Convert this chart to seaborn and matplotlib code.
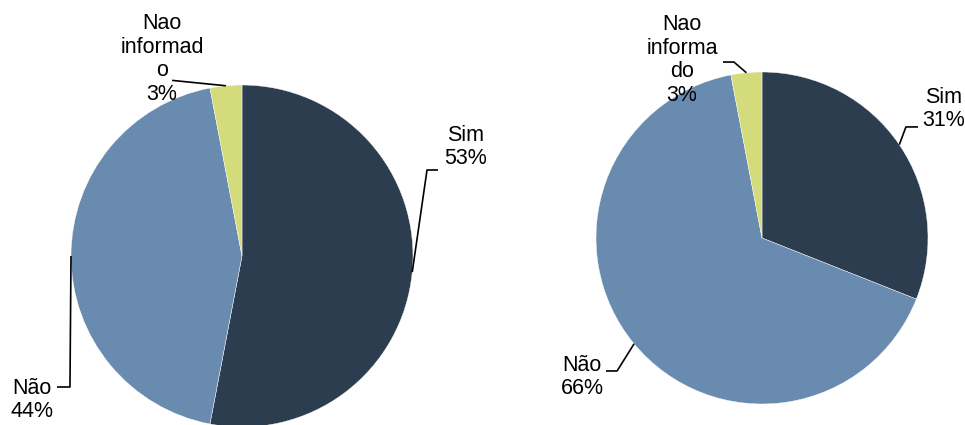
import matplotlib
matplotlib.use("Agg")
import numpy as np
import matplotlib.pyplot as plt
import seaborn as sns

# Survey answers, two groups
categories = ["Sim", "Não", "Nao informado"]
left_values = [53, 44, 3]
right_values = [31, 66, 3]
left_labels = ["Sim\n53%", "Não\n44%", "Nao\ninformad\no\n3%"]
right_labels = ["Sim\n31%", "Não\n66%", "Nao\ninforma\ndo\n3%"]

colors = ["#2D3D50", "#6A8BB0", "#D4DB7B"]

sns.set_theme(style="white")
plt.rcParams["font.family"] = ["Liberation Sans", "DejaVu Sans"]

W, H = 965, 425
fig = plt.figure(figsize=(W / 100, H / 100), dpi=100)
fig.patch.set_facecolor("white")


def make_axes(cx, cy, r):
    # cx, cy in pixels from the top-left corner, r in pixels
    ax = fig.add_axes([(cx - r) / W, (H - cy - r) / H, 2 * r / W, 2 * r / H])
    ax.set_xlim(-1, 1)
    ax.set_ylim(-1, 1)
    ax.set_aspect("equal")
    ax.axis("off")
    return ax


def draw_pie(ax, values, labels, layout):
    wedges, _ = ax.pie(values, colors=colors, startangle=90, counterclock=False,
                       radius=1.0, center=(0, 0), frame=False,
                       wedgeprops=dict(edgecolor="white", linewidth=0.3))
    for w in wedges:
        w.set_clip_on(False)
    ax.set_xlim(-1, 1)
    ax.set_ylim(-1, 1)
    for w, lab, (elbow, end, txt) in zip(wedges, labels, layout):
        mid = np.deg2rad((w.theta1 + w.theta2) / 2)
        ax_x, ax_y = np.cos(mid), np.sin(mid)
        ax.plot([ax_x, elbow[0], end[0]], [ax_y, elbow[1], end[1]],
                color="black", lw=1.2, clip_on=False, solid_capstyle="butt")
        ax.text(txt[0], txt[1], lab, ha="center", va="center", fontsize=15.5,
                color="black", linespacing=1.17, clip_on=False)


# Left pie
axL = make_axes(242, 256, 171)
left_layout = [
    ((1.082, 0.503), (1.146, 0.503), (1.31, 0.637)),
    ((-1.006, -0.766), (-1.082, -0.766), (-1.228, -0.842)),
    ((-0.409, 1.027), (-0.409, 1.027), (-0.468, 1.152)),
]
draw_pie(axL, left_values, left_labels, left_layout)

# Right pie
axR = make_axes(762, 238, 166)
right_layout = [
    ((0.867, 0.669), (0.94, 0.669), (1.096, 0.777)),
    ((-0.873, -0.801), (-0.94, -0.801), (-1.084, -0.837)),
    ((-0.169, 1.060), (-0.235, 1.060), (-0.482, 1.072)),
]
draw_pie(axR, right_values, right_labels, right_layout)

fig.savefig("out.png", dpi=100, facecolor="white")
